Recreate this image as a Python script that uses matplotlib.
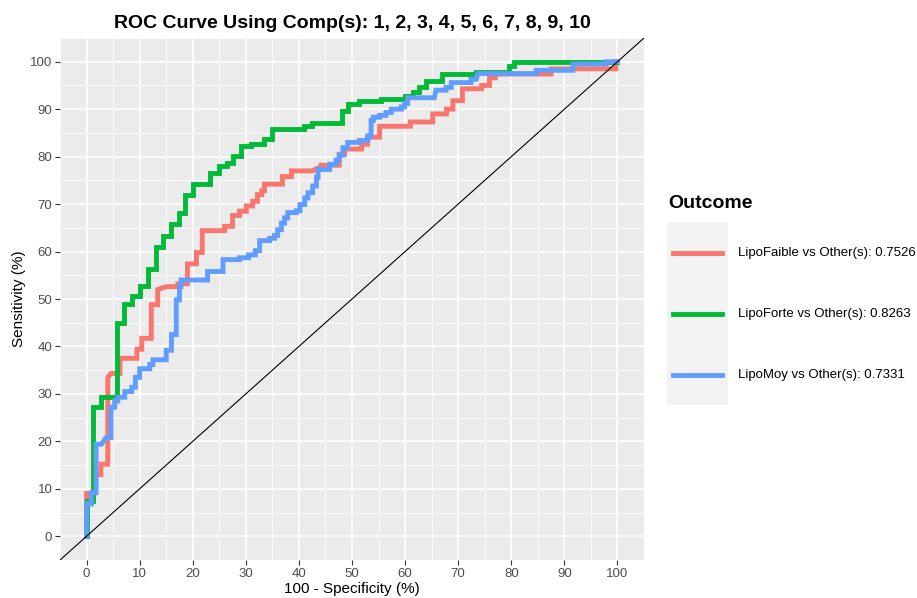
import matplotlib
matplotlib.use("Agg")
import matplotlib.pyplot as plt
from matplotlib.lines import Line2D
from matplotlib.patches import Rectangle
from matplotlib.ticker import MultipleLocator

plt.rcParams['font.family'] = ['Liberation Sans', 'DejaVu Sans']

title = "ROC Curve Using Comp(s): 1, 2, 3, 4, 5, 6, 7, 8, 9, 10"
series_names = ["LipoFaible vs Other(s): 0.7526",
                "LipoForte vs Other(s): 0.8263",
                "LipoMoy vs Other(s): 0.7331"]
colors = ["#F8766D", "#00BA38", "#619CFF"]
ticks = [0, 10, 20, 30, 40, 50, 60, 70, 80, 90, 100]

faible_x = [0, 0, 1.4, 1.4, 2.7, 2.7, 4.0, 4.0, 4.6, 6.3, 6.3, 9.5, 9.5, 10.4, 10.4, 12.2, 12.2, 13.4, 13.4,
            15.0, 17.2, 17.2, 19.0, 19.0, 20.7, 20.7, 21.8, 21.8, 26.0, 26.0, 27.5, 27.5, 28.8, 28.8, 30.1, 30.1,
            31.3, 31.3, 32.2, 32.2, 33.0, 33.0, 33.5, 33.5, 36.9, 36.9, 38.6, 38.6, 42.6, 43.5, 44.2, 44.2,
            47.6, 47.6, 48.6, 48.6, 51.8, 51.8, 52.9, 52.9, 55.2, 55.2, 61.0, 61.0, 65.2, 65.2, 67.8, 67.8,
            69.0, 69.0, 70.8, 70.8, 74.4, 74.4, 75.9, 75.9, 77.0, 77.0, 87.5, 87.5, 99.7, 99.7, 100]
faible_y = [0, 9.0, 9.0, 13.0, 13.0, 15.2, 15.2, 33.5, 34.3, 34.3, 37.5, 37.5, 39.4, 39.4, 41.7, 41.7, 48.8, 48.8, 52.0,
            52.6, 52.6, 53.2, 53.2, 57.4, 57.4, 59.8, 59.8, 64.4, 64.4, 65.3, 65.3, 67.6, 67.6, 68.5, 68.5, 69.6,
            69.6, 70.6, 70.6, 72.0, 72.0, 72.8, 72.8, 74.2, 74.2, 75.8, 75.8, 77.0, 77.0, 77.6, 77.6, 78.2,
            78.2, 80.5, 80.5, 81.6, 81.6, 82.6, 82.6, 84.1, 84.1, 86.4, 86.4, 87.3, 87.3, 89.0, 89.0, 90.0,
            90.0, 91.8, 91.8, 94.3, 94.3, 95.0, 95.0, 96.6, 96.6, 97.4, 97.4, 98.5, 98.5, 100, 100]

forte_x = [0, 0, 1.2, 1.2, 2.8, 2.8, 5.8, 5.8, 7.0, 7.0, 8.5, 8.5, 10.0, 10.0, 11.5, 11.5, 13.1, 13.1, 14.4, 14.4,
           16.0, 16.0, 17.5, 17.5, 18.5, 18.5, 20.0, 20.0, 23.2, 23.2, 25.0, 25.0, 26.4, 26.4, 27.5, 27.5,
           29.0, 29.0, 31.0, 31.0, 33.5, 33.5, 35.0, 35.0, 41.0, 41.0, 42.4, 42.4, 48.2, 48.2, 49.2, 49.2,
           51.4, 51.4, 55.5, 55.5, 60.0, 60.0, 61.4, 61.4, 62.7, 62.7, 64.0, 64.0, 67.0, 67.0, 73.4, 73.4,
           79.5, 79.5, 80.6, 80.6, 100]
forte_y = [0, 7.4, 7.4, 27.2, 27.2, 29.3, 29.3, 45.0, 45.0, 49.0, 49.0, 50.6, 50.6, 52.8, 52.8, 56.4, 56.4, 61.0, 61.0, 63.2,
           63.2, 65.7, 65.7, 68.2, 68.2, 72.0, 72.0, 74.2, 74.2, 76.5, 76.5, 78.0, 78.0, 78.6, 78.6, 80.1,
           80.1, 82.2, 82.2, 82.6, 82.6, 83.7, 83.7, 85.8, 85.8, 86.4, 86.4, 87.0, 87.0, 89.6, 89.6, 91.1,
           91.1, 91.7, 91.7, 92.2, 92.2, 92.8, 92.8, 93.6, 93.6, 94.7, 94.7, 96.0, 96.0, 97.4, 97.4, 97.9,
           97.9, 99.2, 99.2, 100, 100]

moy_x = [0, 0, 0.9, 0.9, 1.8, 1.8, 2.8, 3.7, 4.6, 4.6, 5.3, 5.3, 5.9, 5.9, 7.2, 7.2, 8.5, 8.5, 9.2, 9.2, 10.0, 10.0,
         11.9, 11.9, 12.5, 12.5, 15.0, 15.0, 16.0, 16.0, 16.9, 16.9, 17.5, 17.5, 17.8, 17.8, 22.8, 22.8,
         25.7, 25.7, 28.8, 28.8, 30.5, 30.5, 31.8, 31.8, 32.6, 32.6, 34.5, 34.5, 35.4, 35.4, 36.0, 36.0,
         36.7, 36.7, 37.3, 37.3, 37.9, 37.9, 39.5, 39.5, 40.2, 40.2, 41.1, 41.1, 41.7, 41.7, 42.6, 42.6,
         43.3, 43.3, 43.6, 43.6, 45.8, 45.8, 47.0, 47.0, 47.6, 47.6, 48.3, 48.3, 49.2, 49.2, 51.4, 51.4,
         53.0, 53.0, 53.6, 53.6, 54.0, 54.0, 55.2, 55.2, 56.4, 56.4, 57.4, 57.4, 59.3, 59.3, 59.9, 59.9,
         60.5, 60.5, 65.5, 65.8, 67.7, 67.7, 68.7, 68.7, 72.4, 72.4, 73.4, 73.7, 84.7, 84.7, 91.6, 91.6,
         97.9, 97.9, 100]
moy_y = [0, 6.8, 6.8, 9.2, 9.2, 19.4, 19.4, 20.8, 20.8, 27.2, 27.2, 28.5, 28.5, 29.3, 29.3, 30.5, 30.5, 31.4, 31.4, 33.5, 33.5, 35.3,
         35.3, 36.2, 36.2, 37.2, 37.2, 39.2, 39.2, 42.5, 42.5, 49.8, 49.8, 52.6, 52.6, 54.0, 54.0, 55.8,
         55.8, 58.3, 58.3, 58.7, 58.7, 59.3, 59.3, 60.2, 60.2, 62.3, 62.3, 62.8, 62.8, 63.4, 63.4, 64.6,
         64.6, 66.0, 66.0, 67.1, 67.1, 68.2, 68.2, 68.6, 68.6, 69.9, 69.9, 71.3, 71.3, 72.4, 72.4, 73.8,
         73.8, 75.6, 75.6, 77.3, 77.3, 78.4, 78.4, 79.3, 79.3, 80.3, 80.3, 81.9, 81.9, 83.0, 83.0, 83.4,
         83.4, 84.4, 84.4, 87.6, 87.6, 88.3, 88.3, 88.7, 88.7, 89.3, 89.3, 90.0, 90.0, 90.5, 90.5, 91.2,
         91.2, 92.4, 92.4, 94.0, 94.0, 94.6, 94.6, 95.6, 95.6, 96.3, 96.3, 97.5, 97.5, 98.2, 98.2, 99.5,
         99.5, 100, 100]

fig = plt.figure(figsize=(9.17, 5.98), dpi=100)
ax = fig.add_axes([60/917, 1-560/598, (644-60)/917, (560-38)/598])
ax.set_facecolor("#EBEBEB")
for s in ax.spines.values():
    s.set_visible(False)

ax.set_xlim(-5, 105)
ax.set_ylim(-5, 105)
ax.xaxis.set_minor_locator(MultipleLocator(5))
ax.yaxis.set_minor_locator(MultipleLocator(5))
ax.set_xticks(ticks)
ax.set_yticks(ticks)
ax.grid(which="major", color="white", lw=1.1)
ax.grid(which="minor", color="white", lw=0.55)
ax.set_axisbelow(True)
ax.tick_params(which="major", length=3.5, width=0.8, color="#333333", labelsize=9.5,
               labelcolor="#4D4D4D", pad=2)
ax.tick_params(which="minor", length=0)

for xs, ys, c in zip([faible_x, forte_x, moy_x], [faible_y, forte_y, moy_y], colors):
    ax.plot(xs, ys, color=c, lw=3.5, solid_joinstyle="miter", zorder=3)

ax.axline((0, 0), (100, 100), color="black", lw=0.8, zorder=4)

ax.set_xlabel("100 - Specificity (%)", fontsize=11, labelpad=2)
ax.set_ylabel("Sensitivity (%)", fontsize=11, labelpad=3)
ax.set_title(title, fontsize=14, fontweight="bold", pad=7)

# legend (manual, ggplot-like)
W, H = 917, 598
fig.text(668/W, 1-203/H, "Outcome", fontsize=14, fontweight="bold", va="center", ha="left")
fig.add_artist(Rectangle((667/W, 1-405/H), 61/W, 183/H, transform=fig.transFigure,
                         facecolor="#F2F2F2", edgecolor="none"))
for i, (name, c) in enumerate(zip(series_names, colors)):
    yy = 1 - (253 + 61*i)/H
    fig.add_artist(Line2D([673/W, 722/W], [yy, yy], transform=fig.transFigure,
                          color=c, lw=3.5))
    fig.text(738/W, yy, name, fontsize=9.5, va="center", ha="left", color="black")

fig.savefig("out.png", dpi=100)
